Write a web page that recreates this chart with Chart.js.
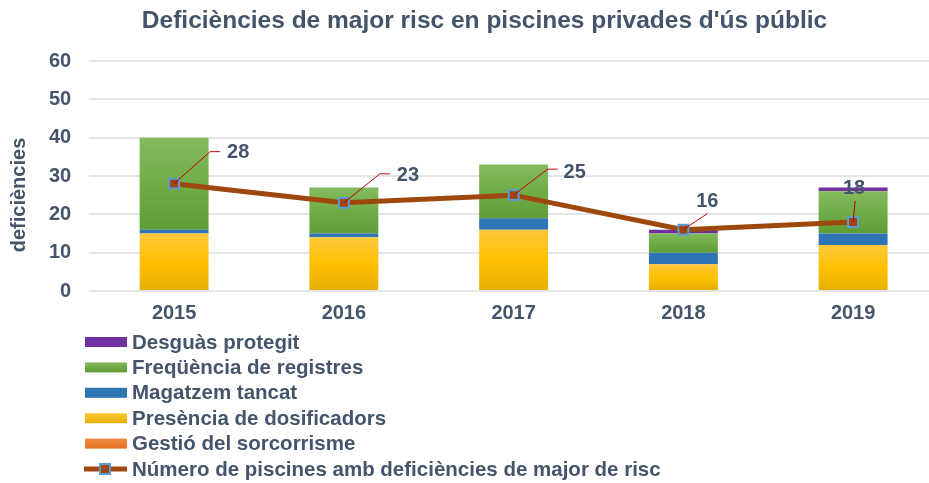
<!DOCTYPE html>
<html>
<head>
<meta charset="utf-8">
<script src="https://cdn.jsdelivr.net/npm/chart.js@4/dist/chart.umd.min.js"></script>
<style>
  html, body { margin: 0; padding: 0; background: #fff; overflow: hidden; }
  #wrap { width: 955px; height: 483px; }
</style>
</head>
<body>
<div id="wrap"><canvas id="chart"></canvas></div>
<script>
const anys = ['2015', '2016', '2017', '2018', '2019']
const gestio = [0, 0, 0, 0, 0]
const presencia = [15, 14, 16, 7, 12]
const magatzem = [1, 1, 3, 3, 3]
const frequencia = [24, 12, 14, 5, 11]
const desguas = [0, 0, 0, 1, 1]
const piscines = [28, 23, 25, 16, 18]
const yTicks = [0, 10, 20, 30, 40, 50, 60]

const FONT = "'Liberation Sans', Arial, sans-serif"
const TEXT = '#44546A'

// bars from the bottom of the stack upwards
const barSeries = [gestio, presencia, magatzem, frequencia, desguas]

// per-segment vertical gradient (like the Office fill)
function gradient(i, top, mid, bottom) {
  return (c) => {
    const chart = c.chart
    const y = chart.scales.y
    if (c.type !== 'data' || !chart.chartArea || !y) return mid
    const base = barSeries.slice(0, i).reduce((s, a) => s + a[c.dataIndex], 0)
    const y0 = y.getPixelForValue(base)
    const y1 = y.getPixelForValue(base + barSeries[i][c.dataIndex])
    if (!isFinite(y0) || !isFinite(y1) || y0 === y1) return mid
    const g = chart.ctx.createLinearGradient(0, y1, 0, y0)
    g.addColorStop(0, top)
    g.addColorStop(0.5, mid)
    g.addColorStop(1, bottom)
    return g
  }
}

// label offsets from each line point (leader path, then text position)
const labelPos = [
  { path: [[36, -32], [46, -32]], tx: 53, ty: -31, align: 'left' },
  { path: [[36, -29], [46, -29]], tx: 53, ty: -27, align: 'left' },
  { path: [[34, -26], [44, -26]], tx: 50, ty: -23, align: 'left' },
  { path: [[24, -16]], tx: 24, ty: -28, align: 'center' },
  { path: [[2, -21]], tx: 1, ty: -34, align: 'center' }
]

const lineLabels = {
  id: 'lineLabels',
  afterDatasetsDraw(chart) {
    const meta = chart.getDatasetMeta(0)
    const ctx = chart.ctx
    ctx.save()
    meta.data.forEach((pt, i) => {
      const p = labelPos[i]
      ctx.strokeStyle = '#C00000'
      ctx.lineWidth = 1
      ctx.beginPath()
      ctx.moveTo(pt.x, pt.y)
      p.path.forEach(([dx, dy]) => ctx.lineTo(pt.x + dx, pt.y + dy))
      ctx.stroke()
      ctx.fillStyle = TEXT
      ctx.font = 'bold 20px ' + FONT
      ctx.textAlign = p.align
      ctx.textBaseline = 'middle'
      ctx.fillText(String(piscines[i]), pt.x + p.tx, pt.y + p.ty)
    })
    ctx.restore()
  }
}

const sideTexts = {
  id: 'sideTexts',
  afterDraw(chart) {
    const ctx = chart.ctx
    ctx.save()
    // y axis title
    ctx.translate(19, 195)
    ctx.rotate(-Math.PI / 2)
    ctx.fillStyle = TEXT
    ctx.font = 'bold 20px ' + FONT
    ctx.textAlign = 'center'
    ctx.textBaseline = 'middle'
    ctx.fillText('deficiències', 0, 0)
    ctx.restore()

    // legend, one item per row
    ctx.save()
    ctx.font = 'bold 20.5px ' + FONT
    ctx.textBaseline = 'middle'
    const items = chart.data.datasets.slice(1).reverse().concat([chart.data.datasets[0]])
    items.forEach((ds, r) => {
      const y = 342 + r * 25.4
      if (ds.type === 'line') {
        ctx.strokeStyle = ds.borderColor
        ctx.lineWidth = 5
        ctx.beginPath()
        ctx.moveTo(84, y)
        ctx.lineTo(127, y)
        ctx.stroke()
        ctx.fillStyle = ds.pointBackgroundColor
        ctx.strokeStyle = ds.pointBorderColor
        ctx.lineWidth = 2
        ctx.fillRect(100, y - 5, 10, 10)
        ctx.strokeRect(100, y - 5, 10, 10)
      } else {
        const g = ctx.createLinearGradient(0, y - 5, 0, y + 5)
        g.addColorStop(0, ds.legendColors[0])
        g.addColorStop(1, ds.legendColors[1])
        ctx.fillStyle = g
        ctx.fillRect(85, y - 5, 42, 10)
      }
      ctx.fillStyle = TEXT
      ctx.fillText(ds.label, 132, y + 1)
    })
    ctx.restore()
  }
}

const chart = new Chart(document.getElementById('chart'), {
  data: {
    labels: anys,
    datasets: [
      {
        type: 'line',
        label: 'Número de piscines amb deficiències de major de risc',
        data: piscines,
        stack: 'line',
        borderColor: '#9E480E',
        borderWidth: 5,
        pointStyle: 'rect',
        pointRadius: 7,
        pointBackgroundColor: '#9E480E',
        pointBorderColor: '#5B9BD5',
        pointBorderWidth: 2,
        tension: 0,
        order: 0
      },
      {
        type: 'bar', label: 'Gestió del sorcorrisme', data: gestio, stack: 'b', order: 1,
        backgroundColor: '#ED7D31', legendColors: ['#F08A40', '#E57223']
      },
      {
        type: 'bar', label: 'Presència de dosificadors', data: presencia, stack: 'b', order: 1,
        backgroundColor: gradient(1, '#FFC83D', '#FFC000', '#E5AE00'), legendColors: ['#FFC83D', '#E5AE00']
      },
      {
        type: 'bar', label: 'Magatzem tancat', data: magatzem, stack: 'b', order: 1,
        backgroundColor: '#2E75B6', legendColors: ['#2E75B6', '#2E75B6']
      },
      {
        type: 'bar', label: 'Freqüència de registres', data: frequencia, stack: 'b', order: 1,
        backgroundColor: gradient(3, '#84BA5E', '#70AD47', '#5E9C35'), legendColors: ['#84BA5E', '#5E9C35']
      },
      {
        type: 'bar', label: 'Desguàs protegit', data: desguas, stack: 'b', order: 1,
        backgroundColor: '#7030A0', legendColors: ['#7030A0', '#7030A0']
      }
    ]
  },
  options: {
    responsive: true,
    maintainAspectRatio: false,
    animation: false,
    layout: { padding: { left: 31, right: 17, bottom: 148 } },
    datasets: {
      bar: { categoryPercentage: 1, barPercentage: 0.406 }
    },
    plugins: {
      legend: { display: false },
      tooltip: { enabled: false },
      title: {
        display: true,
        text: "Deficiències de major risc en piscines privades d'ús públic",
        color: TEXT,
        font: { family: FONT, size: 24.5, weight: 'bold' },
        padding: { top: 7, bottom: 24.6 }
      }
    },
    scales: {
      x: {
        stacked: true,
        grid: { display: false, drawTicks: false },
        border: { display: false },
        ticks: { color: TEXT, font: { family: FONT, size: 20, weight: 'bold' }, padding: 10 }
      },
      y: {
        stacked: true,
        min: 0,
        max: 60,
        afterBuildTicks: (axis) => { axis.ticks = yTicks.map(v => ({ value: v })) },
        grid: { color: '#E2E5E9', lineWidth: 2, drawTicks: false },
        border: { display: false },
        ticks: { color: TEXT, font: { family: FONT, size: 20, weight: 'bold' }, padding: 18 }
      }
    }
  },
  plugins: [lineLabels, sideTexts]
})
</script>
</body>
</html>
